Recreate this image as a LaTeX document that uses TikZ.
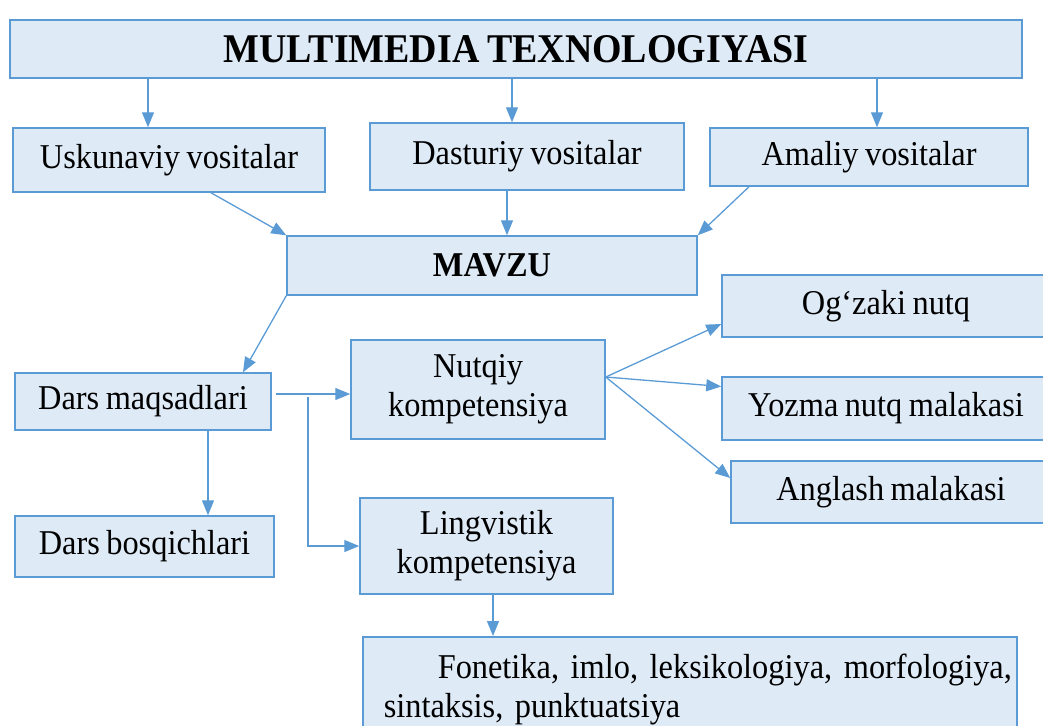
\documentclass[tikz,border=0pt]{standalone}
\usepackage{fontspec}
\setmainfont{Liberation Serif}[FakeStretch=0.93,WordSpace=0.8]
\usetikzlibrary{arrows.meta}

\definecolor{kokfon}{HTML}{DEEAF6}
\definecolor{kokchiziq}{HTML}{5B9BD5}

\tikzset{
  quti/.style={draw=kokchiziq, fill=kokfon, line width=0.75pt, inner sep=0pt, align=center,
    font=\fontsize{17.4}{19.5}\selectfont\frenchspacing},
  strelka/.style={draw=kokchiziq, line width=0.65pt, -{Triangle[length=7.5pt,width=6pt]}}
}

\begin{document}
\begin{tikzpicture}[x=0.5pt,y=-0.5pt]
\useasboundingbox (0,0) rectangle (1043,725);
\node[quti, minimum width=506pt, minimum height=29pt, font=\bfseries\fontsize{20.4}{24}\selectfont] (multimedia) at (516,49) {MULTIMEDIA TEXNOLOGIYASI};
\node[quti, minimum width=156pt, minimum height=32pt] (usk) at (169,160) {Uskunaviy vositalar};
\node[quti, minimum width=157pt, minimum height=33.5pt] (dast) at (527,156.5) {Dasturiy vositalar};
\node[quti, minimum width=159pt, minimum height=29pt] (amal) at (869,157) {Amaliy vositalar};
\node[quti, minimum width=205pt, minimum height=29.5pt, font=\bfseries\fontsize{17.4}{19.5}\selectfont] (mavzu) at (492,265.5) {MAVZU};
\node[quti, minimum width=128pt, minimum height=28.5pt] (maqsad) at (143,401.5) {Dars maqsadlari};
\node[quti, minimum width=127pt, minimum height=49.5pt] (nutq) at (478,389.5) {Nutqiy\\kompetensiya};
\node[quti, minimum width=129.5pt, minimum height=30.5pt] (bosq) at (144.5,546.5) {Dars bosqichlari};
\node[quti, minimum width=126.5pt, minimum height=48pt] (ling) at (486.5,546) {Lingvistik\\kompetensiya};
\node[quti, minimum width=164pt, minimum height=31pt] (ogz) at (886,306) {Og‘zaki nutq};
\node[quti, minimum width=164pt, minimum height=31.5pt] (yozma) at (886,408.5) {Yozma nutq malakasi};
\node[quti, minimum width=160pt, minimum height=31pt] (angl) at (891,492) {Anglash malakasi};
\node[quti, anchor=north west, align=left, text width=306pt, inner xsep=10.5pt, inner ysep=8.5pt] (fon) at (362,636)
  {\hspace*{27pt}\mbox{Fonetika, imlo, leksikologiya, morfologiya,}\\sintaksis, punktuatsiya};

\draw[strelka] ([xshift=-10.5pt]usk.north |- multimedia.south) -- ([xshift=-10.5pt]usk.north);
\draw[strelka] ([xshift=-7.5pt]dast.north |- multimedia.south) -- ([xshift=-7.5pt]dast.north);
\draw[strelka] ([xshift=4pt]amal.north |- multimedia.south) -- ([xshift=4pt]amal.north);
\draw[strelka] ([xshift=21pt]usk.south) -- (mavzu.north west);
\draw[strelka] ([xshift=-10pt]dast.south) -- ([xshift=-10pt]dast.south |- mavzu.north);
\draw[strelka] ([xshift=-60pt]amal.south) -- (mavzu.north east);
\draw[strelka] (mavzu.south west) -- ([xshift=50pt]maqsad.north);
\draw[strelka] ([shift={(2pt,3.75pt)}]maqsad.east) -- ([yshift=3.75pt]maqsad.east -| nutq.west);
\coordinate (tarmoq) at (308,397);
\draw[strelka] (tarmoq) |- (ling.west);
\draw[strelka] ([xshift=32.5pt]maqsad.south) -- ([xshift=32.5pt]maqsad.south |- bosq.north);
\draw[strelka] ([xshift=3.25pt]ling.south) -- ([xshift=3.25pt]ling.south |- fon.north);
\draw[strelka] ([yshift=6.25pt]nutq.east) -- ([yshift=-9pt]ogz.west);
\draw[strelka] ([yshift=6.25pt]nutq.east) -- ([yshift=11pt]yozma.west);
\draw[strelka] ([yshift=6.25pt]nutq.east) -- ([yshift=7pt]angl.west);
\end{tikzpicture}
\end{document}
